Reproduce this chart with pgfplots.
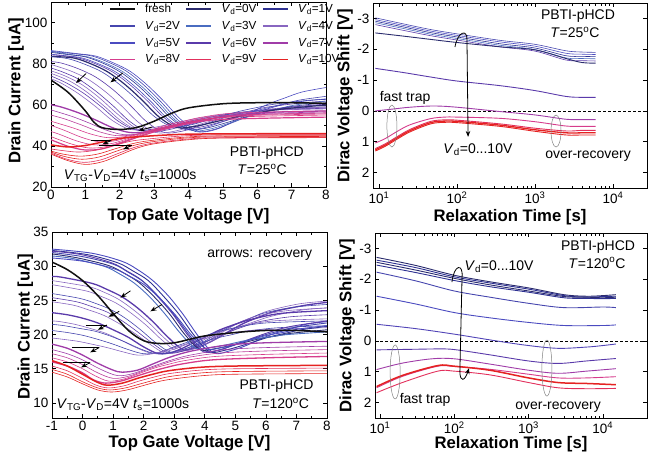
\documentclass[border=0pt]{standalone}
\usepackage{fontspec}
\setmainfont{Liberation Sans}
\usepackage{pgfplots}
\pgfplotsset{compat=1.18}
\usetikzlibrary{arrows.meta}

\definecolor{cf}{HTML}{101010}
\definecolor{c0}{HTML}{2B2C6E}
\definecolor{c1}{HTML}{2E3192}
\definecolor{c2}{HTML}{4646AE}
\definecolor{c3}{HTML}{4A6CC0}
\definecolor{c4}{HTML}{8866C0}
\definecolor{c5}{HTML}{4B4BC0}
\definecolor{c6}{HTML}{5A3AAA}
\definecolor{c7}{HTML}{A03CA8}
\definecolor{c8}{HTML}{D63C8C}
\definecolor{c9}{HTML}{E2305C}
\definecolor{c10}{HTML}{E52222}

\pgfplotsset{
  base/.style={
    scale only axis,
    axis line style={line width=0.8pt},
    tick style={line width=0.7pt, black},
    major tick length=4pt, minor tick length=2.5pt,
    tick label style={font=\fontsize{13.5}{13.5}\selectfont},
    label style={font=\fontsize{16.7}{16.7}\selectfont\bfseries},
    /pgf/number format/assume math mode=true,
    every axis plot/.append style={smooth, tension=0.55, line width=0.6pt},
  },
  relaxax/.style={
    ymin=-3.5, ymax=2.5,
    ytick={-3,-2,-1,0,1,2}, yticklabels={-3,-2,-1,0,1,2},
    xtick={10,100,1000,10000},
    xticklabels={10\textsuperscript{1},10\textsuperscript{2},10\textsuperscript{3},10\textsuperscript{4}},
    xlabel={Relaxation Time [s]}, ylabel={Dirac Voltage Shift [V]},
  },
}
\tikzset{arr/.style={black, line width=0.8pt, -{Stealth[length=6pt,width=4.5pt]}},
  ann/.style={font=\fontsize{14}{14}\selectfont, inner sep=0pt}}

\begin{document}
\begin{tikzpicture}
\useasboundingbox (0,0) rectangle (648pt,459pt);

% ---------------- (a)
\begin{axis}[base, at={(51pt,272pt)}, anchor=south west, width=275pt, height=185pt,
  xmin=0, xmax=8, ymin=20, ymax=110, xtick={0,...,8}, ytick={20,40,...,100},
  minor x tick num=1, minor y tick num=1,
  xlabel={Top Gate Voltage [V]}, ylabel={Drain Current [uA]},
  xlabel style={at={(axis description cs:0.5,0)}, anchor=base, yshift=-33pt},
  ylabel style={at={(axis description cs:-0.127,0.52)}, anchor=center},
  legend columns=3, legend cell align=left,
  legend style={draw=none, fill=none, at={(axis description cs:0.21,0.997)}, anchor=north west,
    font=\fontsize{11.7}{12}\selectfont, inner sep=0pt, row sep=4pt,
    /tikz/every odd column/.append style={column sep=8pt},
    /tikz/every even column/.append style={column sep=4pt}, nodes={inner sep=1.5pt}},
  legend image code/.code={\draw[#1] (0pt,0pt) -- (25pt,0pt);},
]
\addlegendimage{cf, line width=1.6pt}\addlegendentry{fresh}
\addlegendimage{c0, line width=1.6pt}\addlegendentry{\textit{V}\textsubscript{d}=0V}
\addlegendimage{c1, line width=1.6pt}\addlegendentry{\textit{V}\textsubscript{d}=1V}
\addlegendimage{c2, line width=1.6pt}\addlegendentry{\textit{V}\textsubscript{d}=2V}
\addlegendimage{c3, line width=1.6pt}\addlegendentry{\textit{V}\textsubscript{d}=3V}
\addlegendimage{c4, line width=1.6pt}\addlegendentry{\textit{V}\textsubscript{d}=4V}
\addlegendimage{c5, line width=1.6pt}\addlegendentry{\textit{V}\textsubscript{d}=5V}
\addlegendimage{c6, line width=1.6pt}\addlegendentry{\textit{V}\textsubscript{d}=6V}
\addlegendimage{c7, line width=1.6pt}\addlegendentry{\textit{V}\textsubscript{d}=7V}
\addlegendimage{c8, line width=1.6pt}\addlegendentry{\textit{V}\textsubscript{d}=8V}
\addlegendimage{c9, line width=1.6pt}\addlegendentry{\textit{V}\textsubscript{d}=9V}
\addlegendimage{c10, line width=1.6pt}\addlegendentry{\textit{V}\textsubscript{d}=10V}
% purple recovery curves
\addplot[forget plot, c6] coordinates {(0,81) (0.3,80.3) (0.8,77.5) (1.3,73.5) (1.8,67.4) (2.3,59.8) (2.8,51.5) (3.3,46.5) (3.8,47.1) (4.3,49.6) (4.8,52.4) (5.3,55) (5.8,57) (6.3,58.9) (7.3,60.9) (8,61.8)};
\addplot[forget plot, c4] coordinates {(0,79.6) (0.55,76.6) (1.05,72.7) (1.55,66.8) (2.05,59.5) (2.55,51.4) (3.05,46.5) (3.55,47) (4.05,49.2) (4.55,51.6) (5.05,54) (5.55,55.7) (6.05,57.3) (7.05,59) (8,59.9)};
\addplot[forget plot, c6] coordinates {(0,77.9) (0.3,76.2) (0.8,72.5) (1.3,66.7) (1.8,59.6) (2.3,51.8) (2.8,47) (3.3,47.5) (3.8,49.4) (4.3,51.6) (4.8,53.6) (5.3,55.2) (5.8,56.6) (6.8,58.2) (8,59)};
\addplot[forget plot, c4] coordinates {(0,76.5) (0.4,74.1) (0.9,69.8) (1.4,63.5) (1.9,56) (2.4,49.3) (2.7,47.3) (3.2,47.7) (3.7,49.6) (4.2,51.7) (4.7,53.6) (5.2,55.1) (5.7,56.4) (6.7,58) (8,58.8)};
\addplot[forget plot, c4] coordinates {(0,75.3) (0.55,71.5) (1.05,66.1) (1.55,59.3) (2.05,52) (2.55,47.5) (3.05,47.9) (3.55,49.7) (4.05,51.7) (4.55,53.6) (5.05,55) (5.55,56.3) (6.55,57.7) (8,58.5)};
\addplot[forget plot, c6] coordinates {(0,74) (0.45,70.6) (0.95,65.6) (1.45,59.2) (1.95,52.1) (2.45,47.8) (2.95,48.1) (3.45,49.8) (3.95,51.7) (4.45,53.5) (4.95,54.9) (5.45,56.2) (6.45,57.5) (8,58.3)};
\addplot[forget plot, c4] coordinates {(0,72.6) (0.3,70.5) (0.8,65.4) (1.3,59.1) (1.8,52.2) (2.3,48) (2.8,48.4) (3.3,50) (3.8,51.8) (4.3,53.5) (4.8,54.8) (5.3,56) (6.3,57.3) (8,58)};
% blue band
\addplot[forget plot, c5] coordinates {(0,86.4) (0.8,84.8) (1.3,83.7) (1.8,80.5) (2.3,76.3) (2.8,69.6) (3.3,61.4) (3.8,52.5) (4.3,47) (4.8,48) (5.3,51.8) (5.8,56.1) (6.3,60.2) (6.8,63.3) (7.3,66.2) (8,68.4)};
\addplot[forget plot, c2] coordinates {(0,86) (0.7,84.8) (1.2,83.7) (1.7,80.5) (2.2,76.3) (2.7,69.6) (3.2,61.4) (3.7,52.5) (4.2,47) (4.7,47.8) (5.2,50.8) (5.7,54.2) (6.2,57.5) (6.7,59.9) (7.2,62.2) (8,64.1)};
\addplot[forget plot, c3] coordinates {(0,85.9) (0.6,84.4) (1.1,83.2) (1.6,80.2) (2.1,76) (2.6,69.5) (3.1,61.6) (3.6,52.8) (4.1,47.5) (4.6,48.1) (5.1,50.6) (5.6,53.4) (6.1,56) (6.6,58) (7.1,59.9) (8,61.8)};
\addplot[forget plot, c1] coordinates {(0,85.5) (0.5,84.4) (1,83.3) (1.5,80.3) (2,76.1) (2.5,69.8) (3,61.9) (3.5,53.3) (4,48) (4.5,48.6) (5,50.8) (5.5,53.3) (6,55.7) (6.5,57.5) (7,59.2) (8,61)};
\addplot[forget plot, c5] coordinates {(0,84.6) (0.4,83.9) (0.9,82.8) (1.4,79.8) (1.9,75.8) (2.4,69.5) (2.9,61.7) (3.4,53.2) (3.9,48) (4.4,48.6) (4.9,51.2) (5.4,54.1) (5.9,56.8) (6.4,58.9) (6.9,60.8) (8,62.9)};
\addplot[forget plot, c6] coordinates {(0,84.3) (0.3,83.9) (0.8,82.8) (1.3,79.9) (1.8,75.9) (2.3,69.7) (2.8,62) (3.3,53.6) (3.8,48.5) (4.3,49) (4.8,51) (5.3,53.3) (5.8,55.4) (6.3,57) (6.8,58.5) (8,60.4)};
\addplot[forget plot, c0, line width=1.2pt] coordinates {(0,83.5) (0.65,82.8) (1.15,80) (1.65,76) (2.15,69.9) (2.65,62.3) (3.15,54) (3.65,49) (4.15,49.4) (4.65,51.2) (5.15,53.2) (5.65,55.1) (6.15,56.5) (6.65,57.8) (7.65,59.4) (8,59.7)};
\addplot[forget plot, c2] coordinates {(0,83.4) (0.5,82.4) (1,79.6) (1.5,75.8) (2,69.8) (2.5,62.5) (3,54.4) (3.5,49.5) (4,50) (4.5,52.2) (5,54.6) (5.5,56.9) (6,58.7) (6.5,60.3) (7.5,62.2) (8,62.6)};
% magenta
\addplot[forget plot, c7, line width=1.3pt] coordinates {(0,60) (0.3,58.9) (0.8,56.1) (1.3,52.6) (1.8,48.8) (2.3,46.5) (2.8,46.9) (3.3,48.6) (3.8,50.5) (4.3,52.3) (4.8,53.6) (5.3,54.9) (6.3,56.3) (8,57)};
\addplot[forget plot, c7] coordinates {(0,57.5) (0.6,54.4) (1.1,51.2) (1.6,47.7) (2.1,45.5) (2.6,45.9) (3.1,47.7) (3.6,49.7) (4.1,51.6) (4.6,53) (5.1,54.3) (6.1,55.7) (8,56.5)};
\addplot[forget plot, c7!50!c8] coordinates {(0,55) (0.4,53.1) (0.9,50.1) (1.4,46.9) (1.9,45) (2.4,45.4) (2.9,47.2) (3.4,49.2) (3.9,51.1) (4.4,52.5) (4.9,53.8) (5.9,55.2) (8,56)};
\addplot[forget plot, c8] coordinates {(0,52) (0.65,48.7) (1.15,45.8) (1.65,44) (2.15,44.5) (2.65,46.3) (3.15,48.4) (3.65,50.3) (4.15,51.8) (4.65,53.2) (5.65,54.7) (8,55.5)};
% pink
\addplot[forget plot, c8] coordinates {(0,50) (0.4,47.5) (0.9,44.1) (1.4,42) (1.9,42.6) (2.4,45) (2.9,47.7) (3.4,50.3) (3.9,52.2) (4.4,54) (5.4,56) (8,57)};
\addplot[forget plot, c8] coordinates {(0,47) (0.25,45.6) (0.75,42.4) (1.25,40.5) (1.75,41.1) (2.25,43.6) (2.75,46.4) (3.25,49) (3.75,51) (4.25,52.9) (5.25,54.9) (8,56)};
\addplot[forget plot, c8!60!c9] coordinates {(0,44.5) (0.6,40.9) (1.1,39) (1.6,39.6) (2.1,42.2) (2.6,45.1) (3.1,47.8) (3.6,49.9) (4.1,51.8) (5.1,53.9) (8,55)};
\addplot[forget plot, c8, line width=1.2pt] coordinates {(0,43) (0.5,39.8) (1,38) (1.5,38.6) (2,41.2) (2.5,44.1) (3,46.8) (3.5,48.9) (4,50.8) (5,52.9) (8,54)};
% red
\addplot[forget plot, c9] coordinates {(0,38.5) (0.3,37.8) (0.8,37) (1.3,37.9) (1.8,40) (2.3,42.2) (2.8,43.3) (3.8,44.8) (4.8,45.3) (8,45.5)};
\addplot[forget plot, c10] coordinates {(0,37.5) (0.35,36) (0.85,35) (1.35,36) (1.85,38.5) (2.35,41) (2.85,42.5) (3.85,44.2) (4.85,44.8) (8,45)};
\addplot[forget plot, c10] coordinates {(0,37) (0.4,34.8) (0.9,33.5) (1.4,34.6) (1.9,37.4) (2.4,40.2) (2.9,41.9) (3.9,43.8) (4.9,44.4) (8,44.6)};
\addplot[forget plot, c9] coordinates {(0,36.5) (0.45,33.6) (0.95,32) (1.45,33.2) (1.95,36.3) (2.45,39.4) (2.95,41.3) (3.95,43.3) (4.95,44) (8,44.2)};
\addplot[forget plot, c10] coordinates {(0,36) (0.5,32.8) (1,31) (1.5,32.3) (2,35.6) (2.5,38.9) (3,41) (4,43) (5,43.8) (8,44)};
\addplot[forget plot, c10, line width=1.5pt] coordinates {(0,40.5) (0.5,39.5) (1,40.2) (1.5,41.9) (2,43.6) (2.5,44.4) (3.5,45.4) (4.5,45.8) (8,46)};
% fresh
\addplot[forget plot, cf, line width=1.5pt] coordinates {(0,72) (0.5,66) (1,57) (1.25,51.5) (1.5,48.8) (2,48) (2.5,49) (3,52) (3.5,55.8) (4,58.5) (5,60.5) (6,61) (7,61) (8,60.7)};
% arrows
\draw[arr] (axis cs:1.02,75.2) -- (axis cs:0.73,70.6);
\draw[arr] (axis cs:2.09,75.5) -- (axis cs:1.73,70.9);
\draw[arr] (axis cs:2.95,49.2) -- (axis cs:2.55,47.5);
\draw[black, line width=0.8pt] (axis cs:1.15,42.6) -- (axis cs:1.75,42.6);
\draw[arr] (axis cs:1.75,42.6) -- (axis cs:1.5,40.8);
\draw[black, line width=0.8pt] (axis cs:1.4,40.3) -- (axis cs:2.35,40.3);
\draw[arr] (axis cs:2.35,40.3) -- (axis cs:2.1,38.3);
\node[ann] at (axis cs:6.28,36.5) {PBTI-pHCD};
\node[ann] at (axis cs:6.14,28.6) {\textit{T}=25\textsuperscript{o}C};
\node[ann] at (axis cs:2.3,25.4) {\textit{V}\textsubscript{TG}-\textit{V}\textsubscript{D}=4V \textit{t}\textsubscript{s}=1000s};
\node[font=\fontsize{17}{17}\selectfont] at (axis description cs:-0.095,-0.114) {(a)};
\end{axis}

% ---------------- (c)
\begin{axis}[base, xmode=log, y dir=reverse, relaxax, at={(373pt,271pt)}, anchor=south west, width=274pt, height=185pt,
  xmin=8.4, xmax=27300,
  xlabel style={at={(axis description cs:0.5,0)}, anchor=base, yshift=-33pt},
  ylabel style={at={(axis description cs:-0.102,0.5)}, anchor=center},
]
\draw[black, densely dashed, line width=0.6pt] (axis cs:8.4,0) -- (axis cs:27300,0);
\addplot[c2] coordinates {(9,-3.02) (20,-2.83) (46,-2.64) (100,-2.5) (355,-2.29) (1000,-2.16) (2500,-1.95) (4000,-1.91) (6000,-1.9)};
\addplot[c5] coordinates {(9,-2.96) (20,-2.78) (46,-2.59) (100,-2.45) (355,-2.24) (1000,-2.1) (2500,-1.87) (4000,-1.84) (6000,-1.83)};
\addplot[c1] coordinates {(9,-2.91) (20,-2.73) (46,-2.54) (100,-2.4) (355,-2.18) (1000,-2.04) (2500,-1.79) (4000,-1.77) (6000,-1.76)};
\addplot[c3] coordinates {(9,-2.86) (20,-2.68) (46,-2.49) (100,-2.35) (355,-2.13) (1000,-1.99) (2500,-1.72) (4000,-1.7) (6000,-1.69)};
\addplot[c6] coordinates {(9,-2.8) (20,-2.62) (46,-2.44) (100,-2.3) (355,-2.08) (1000,-1.94) (2500,-1.65) (4000,-1.63) (6000,-1.62)};
\addplot[c0, line width=0.9pt] coordinates {(9,-2.53) (20,-2.43) (46,-2.32) (100,-2.22) (355,-2.08) (1000,-1.98) (2500,-1.7) (4000,-1.57) (6000,-1.55)};
\addplot[c6, line width=0.9pt] coordinates {(9,-1.38) (20,-1.25) (46,-1.1) (100,-0.97) (355,-0.82) (1000,-0.66) (2500,-0.47) (4000,-0.44) (6000,-0.44)};
\addplot[c7, line width=0.9pt] coordinates {(9,0) (15,-0.06) (25,-0.12) (50,-0.16) (100,-0.12) (355,0.02) (1000,0.13) (2500,0.27) (4000,0.28) (6000,0.28)};
\addplot[c8, line width=0.9pt] coordinates {(9,1.04) (12,0.9) (17,0.67) (25,0.45) (46,0.25) (70,0.2) (100,0.2) (355,0.24) (1000,0.35) (2500,0.49) (4000,0.5) (6000,0.5)};
\addplot[c9, line width=0.9pt] coordinates {(9,1.22) (12,1.07) (17,0.84) (25,0.6) (46,0.34) (70,0.29) (100,0.3) (355,0.42) (1000,0.56) (2500,0.65) (4000,0.63) (6000,0.63)};
\addplot[c10, line width=1.3pt] coordinates {(9,1.26) (12,1.11) (17,0.88) (25,0.64) (46,0.38) (70,0.33) (100,0.34) (355,0.46) (1000,0.61) (2500,0.71) (4000,0.71) (6000,0.71)};
\addplot[c10, line width=0.9pt] coordinates {(9,1.3) (12,1.15) (17,0.92) (25,0.68) (46,0.42) (70,0.37) (100,0.38) (355,0.5) (1000,0.66) (2500,0.78) (4000,0.78) (6000,0.78)};
\node[ann] at (axis description cs:0.748,0.93) {PBTI-pHCD};
\node[ann] at (axis description cs:0.737,0.84) {\textit{T}=25\textsuperscript{o}C};
\draw[arr] (axis description cs:0.299,0.762) .. controls (axis description cs:0.31,0.85) and (axis description cs:0.345,0.86) .. (axis description cs:0.343,0.80) -- (axis description cs:0.347,0.276);
\node[ann] at (axis description cs:0.383,0.205) {\textit{V}\textsubscript{d}=0...10V};
\node[ann] at (axis description cs:0.117,0.486) {fast trap};
\draw[gray, line width=0.5pt] (axis description cs:0.069,0.335) ellipse [x radius=5pt, y radius=21pt];
\node[ann] at (axis description cs:0.785,0.173) {over-recovery};
\draw[gray, line width=0.5pt] (axis description cs:0.668,0.308) ellipse [x radius=5pt, y radius=16pt];
\end{axis}

% ---------------- (b)
\begin{axis}[base, at={(52pt,41pt)}, anchor=south west, width=275pt, height=186pt,
  xmin=-1, xmax=8, ymin=7.8, ymax=35, xtick={-1,0,...,8}, ytick={10,15,...,35},
  minor x tick num=1,
  xlabel={Top Gate Voltage [V]}, ylabel={Drain Current [uA]},
  xlabel style={at={(axis description cs:0.5,0)}, anchor=base, yshift=-29pt},
  ylabel style={at={(axis description cs:-0.097,0.49)}, anchor=center},
]
% thin purple
\addplot[c6, line width=1.3pt] coordinates {(-1,28.5) (-0.7,28.4) (0.3,27.5) (0.8,26.6) (1.3,25.5) (1.8,23.9) (2.3,21.9) (2.8,19.6) (3.3,17.8) (3.8,18.2) (4.3,19.2) (4.8,20.5) (5.3,21.7) (5.8,22.6) (6.3,23.4) (7.3,24.3) (8,24.7)};
\addplot[c4] coordinates {(-1,27.9) (0.2,27) (0.7,26.2) (1.2,25.1) (1.7,23.5) (2.2,21.6) (2.7,19.4) (3.2,17.7) (3.7,18) (4.2,19) (4.7,20.1) (5.2,21.2) (5.7,22) (6.2,22.7) (7.2,23.6) (8,23.9)};
\addplot[c4] coordinates {(-1,27.3) (0.1,26.4) (0.6,25.6) (1.1,24.6) (1.6,23.1) (2.1,21.3) (2.6,19.2) (3.1,17.6) (3.6,18) (4.1,19.1) (4.6,20.4) (5.1,21.7) (5.6,22.6) (6.1,23.5) (7.1,24.5) (8,24.9)};
\addplot[c2] coordinates {(-1,26) (-0.1,25.3) (0.4,24.6) (0.9,23.7) (1.4,22.4) (1.9,20.7) (2.4,18.8) (2.9,17.4) (3.4,17.8) (3.9,18.8) (4.4,20.1) (4.9,21.3) (5.4,22.2) (5.9,23.1) (6.9,24) (8,24.4)};
\addplot[c6] coordinates {(-1,25.4) (-0.2,24.8) (0.3,24.1) (0.8,23.3) (1.3,22) (1.8,20.4) (2.3,18.7) (2.8,17.3) (3.3,17.6) (3.8,18.4) (4.3,19.5) (4.8,20.4) (5.3,21.2) (5.8,21.9) (6.8,22.6) (8,22.9)};
\addplot[c4] coordinates {(-1,24.8) (-0.3,24.3) (0.2,23.6) (0.7,22.8) (1.2,21.6) (1.7,20.2) (2.2,18.6) (2.7,17.3) (3.2,17.6) (3.7,18.6) (4.2,19.8) (4.7,21) (5.2,21.9) (5.7,22.7) (6.7,23.5) (8,23.9)};
\addplot[c6, line width=1.3pt] coordinates {(-1,23.2) (-0.5,22.9) (0,22.4) (0.5,21.7) (1,20.7) (1.5,19.6) (2,18.2) (2.5,17.2) (3,17.5) (3.5,18.5) (4,19.6) (4.5,20.7) (5,21.5) (5.5,22.2) (6.5,23.1) (8,23.5)};
\addplot[c4] coordinates {(-1,22) (-0.75,21.9) (-0.25,21.5) (0.25,20.9) (0.75,20.2) (1.25,19.2) (1.75,18.1) (2.25,17.3) (2.75,17.55) (3.25,18.3) (3.75,19.2) (4.25,20.05) (4.75,20.7) (5.25,21.3) (6.25,22) (8,22.3)};
\addplot[c2] coordinates {(-1,21.5) (-0.6,21.3) (-0.1,20.9) (0.4,20.5) (0.9,19.8) (1.4,18.9) (1.9,17.9) (2.4,17.2) (2.9,17.4) (3.4,18) (3.9,18.8) (4.4,19.5) (4.9,20) (5.4,20.5) (6.4,21) (8,21.3)};
\addplot[c2] coordinates {(-1,20.6) (-0.5,20.3) (0,19.9) (0.5,19.3) (1,18.6) (1.5,17.8) (2,17.2) (2.5,17.4) (3,18.2) (3.5,19) (4,19.8) (4.5,20.5) (5,21) (6,21.7) (8,22)};
\addplot[c4] coordinates {(-1,19.5) (-0.2,19.05) (0.3,18.6) (0.8,18.1) (1.3,17.5) (1.8,17) (2.3,17.2) (2.8,17.8) (3.3,18.5) (3.8,19.2) (4.3,19.7) (4.8,20.2) (5.8,20.7) (8,21)};
% blue band
\addplot[c5, line width=0.9pt] coordinates {(-1,32.5) (0.3,31.9) (1.3,30.7) (1.8,29.5) (2.3,27.9) (2.8,25.7) (3.3,22.9) (3.8,19.7) (4.3,17.3) (4.8,17.6) (5.3,18.3) (5.8,19.3) (6.3,20.2) (6.8,20.8) (7.3,21.5) (8,21.9)};
\addplot[c1, line width=0.9pt] coordinates {(-1,32.3) (0.15,31.7) (1.15,30.5) (1.65,29.3) (2.15,27.9) (2.65,25.6) (3.15,23) (3.65,19.9) (4.15,17.5) (4.65,17.7) (5.15,18.3) (5.65,19) (6.15,19.7) (6.65,20.2) (7.15,20.7) (8,21.2)};
\addplot[c6, line width=0.9pt] coordinates {(-1,32.2) (-0.05,31.7) (0.95,30.5) (1.45,29.3) (1.95,27.9) (2.45,25.6) (2.95,23) (3.45,19.9) (3.95,17.5) (4.45,17.7) (4.95,18.5) (5.45,19.3) (5.95,20.1) (6.45,20.8) (6.95,21.3) (8,22)};
\addplot[c2, line width=0.9pt] coordinates {(-1,32) (0,31.4) (1,30.3) (1.5,29.1) (2,27.7) (2.5,25.5) (3,22.9) (3.5,19.9) (4,17.6) (4.5,17.8) (5,18.5) (5.5,19.3) (6,20) (6.5,20.6) (7,21.1) (8,21.7)};
\addplot[c0, line width=0.9pt] coordinates {(-1,31.8) (-0.15,31.2) (0.85,30.1) (1.35,29) (1.85,27.6) (2.35,25.5) (2.85,23) (3.35,20) (3.85,17.8) (4.35,17.95) (4.85,18.4) (5.35,18.9) (5.85,19.45) (6.35,19.8) (6.85,20.2) (8,20.7)};
\addplot[c3, line width=0.9pt] coordinates {(-1,31.5) (-0.3,31.1) (0.7,30) (1.2,28.9) (1.7,27.5) (2.2,25.5) (2.7,23) (3.2,20.2) (3.7,18) (4.2,18.1) (4.7,18.5) (5.2,19) (5.7,19.4) (6.2,19.7) (6.7,20) (8,20.4)};
\addplot[c5, line width=0.9pt] coordinates {(-1,31.2) (0.05,30.7) (1.05,29.6) (1.55,28.5) (2.05,27.2) (2.55,25.2) (3.05,22.8) (3.55,20) (4.05,17.9) (4.55,18.1) (5.05,18.6) (5.55,19.3) (6.05,19.9) (6.55,20.3) (7.05,20.8) (8,21.3)};
% magenta, pink, red
\addplot[c7, line width=1.3pt] coordinates {(-1,18.6) (-0.5,18) (0,17) (0.5,15.8) (1,14.8) (1.3,14.5) (1.8,14.8) (2.3,15.7) (2.8,16.6) (3.3,17.3) (3.8,17.8) (4.8,18.5) (6,18.8) (8,19)};
\addplot[c7] coordinates {(-1,17.8) (-0.5,17.2) (0,16.3) (0.6,14.9) (1.15,14) (1.65,14.3) (2.15,15.1) (2.65,15.9) (3.15,16.6) (3.65,17.1) (4.65,17.8) (6,18.1) (8,18.3)};
\addplot[c7!50!c8] coordinates {(-1,17.2) (-0.5,16.6) (0,15.6) (0.5,14.4) (1,13.6) (1.5,13.9) (2,14.7) (2.5,15.5) (3,16.2) (3.5,16.7) (4.5,17.3) (6,17.6) (8,17.8)};
\addplot[c8] coordinates {(-1,16.6) (-0.5,16) (0,15) (0.4,14) (0.85,13.2) (1.35,13.5) (1.85,14.3) (2.35,15.1) (2.85,15.7) (3.35,16.2) (4.35,16.8) (6,17.1) (8,17.3)};
\addplot[c8, line width=1.3pt] coordinates {(-1,16) (-0.5,15.4) (0,14.4) (0.35,13.4) (0.75,12.9) (1.25,13.2) (1.75,13.9) (2.25,14.6) (2.75,15.2) (3.25,15.7) (4.25,16.3) (6,16.6) (8,16.8)};
\addplot[c9] coordinates {(-1,15.4) (-0.5,14.7) (0,13.6) (0.45,12.6) (0.85,12.2) (1.35,12.5) (1.85,13.2) (2.35,13.8) (2.85,14.3) (3.85,14.8) (5,15) (8,15.1)};
\addplot[c10] coordinates {(-1,14.9) (-0.5,14.2) (0,13.1) (0.5,12.2) (0.9,11.9) (1.4,12.2) (1.9,12.8) (2.4,13.4) (2.9,13.9) (3.9,14.4) (5,14.6) (8,14.7)};
\addplot[c10] coordinates {(-1,14.5) (-0.5,13.8) (0,12.8) (0.5,11.9) (0.95,11.6) (1.45,11.9) (1.95,12.5) (2.45,13.1) (2.95,13.5) (3.95,14) (5,14.2) (8,14.3)};
\addplot[c10, line width=1.5pt] coordinates {(-1,16.2) (-0.5,15.4) (0,14.2) (0.45,13.1) (0.8,12.6) (1.3,12.9) (1.8,13.6) (2.3,14.2) (2.8,14.7) (3.8,15.2) (5,15.4) (8,15.5)};
% fresh
\addplot[cf, line width=1.5pt] coordinates {(-1,30.6) (-0.5,29.5) (0,27.9) (0.5,25.7) (1,23.1) (1.5,20.6) (2,19.1) (2.5,18.7) (3,18.8) (3.5,19.3) (4,19.8) (5,20.3) (6,20.6) (7,20.6) (8,20.4)};
% arrows
\draw[arr] (axis cs:1.57,26.4) -- (axis cs:1.24,25.4);
\draw[arr] (axis cs:2.6,24.4) -- (axis cs:2.22,23.4);
\draw[arr] (axis cs:1.2,23.4) -- (axis cs:0.85,22.6);
\draw[black, line width=0.8pt] (axis cs:0.1,21.4) -- (axis cs:0.8,21.4);
\draw[arr] (axis cs:0.8,21.4) -- (axis cs:0.5,20.7);
\draw[black, line width=0.8pt] (axis cs:-0.35,18.1) -- (axis cs:0.55,18.1);
\draw[arr] (axis cs:0.55,18.1) -- (axis cs:0.25,17.4);
\draw[black, line width=0.8pt] (axis cs:-0.65,15.9) -- (axis cs:0.25,15.9);
\draw[arr] (axis cs:0.25,15.9) -- (axis cs:-0.05,15.2);
\node[ann] at (axis cs:5.8,31.6) {arrows: recovery};
\node[ann] at (axis cs:6.35,12.4) {PBTI-pHCD};
\node[ann] at (axis cs:6.48,9.9) {\textit{T}=120\textsuperscript{o}C};
\node[ann] at (axis cs:1.32,9.75) {\textit{V}\textsubscript{TG}-\textit{V}\textsubscript{D}=4V \textit{t}\textsubscript{s}=1000s};
\node[font=\fontsize{17}{17}\selectfont] at (axis description cs:-0.087,-0.118) {(b)};
\end{axis}

% ---------------- (d)
\begin{axis}[base, xmode=log, y dir=reverse, relaxax, at={(375pt,41pt)}, anchor=south west, width=272pt, height=185pt,
  xmin=8.57, xmax=39300,
  xlabel style={at={(axis description cs:0.5,0)}, anchor=base, yshift=-30pt},
  ylabel style={at={(axis description cs:-0.103,0.5)}, anchor=center},
]
\draw[black, densely dashed, line width=0.6pt] (axis cs:8.57,0) -- (axis cs:39300,0);
\addplot[c0, line width=0.9pt] coordinates {(9,-2.71) (30,-2.45) (100,-2.13) (300,-1.92) (1000,-1.72) (3000,-1.5) (6000,-1.45) (10000,-1.47) (15000,-1.5)};
\addplot[c1, line width=0.9pt] coordinates {(9,-2.62) (30,-2.38) (100,-2.08) (300,-1.88) (1000,-1.68) (3000,-1.47) (6000,-1.42) (10000,-1.44) (15000,-1.45)};
\addplot[c0, line width=0.9pt] coordinates {(9,-2.55) (30,-2.3) (100,-2.03) (300,-1.82) (1000,-1.62) (3000,-1.44) (6000,-1.42) (10000,-1.4) (15000,-1.42)};
\addplot[c1, line width=0.9pt] coordinates {(9,-2.46) (30,-2.22) (100,-1.96) (300,-1.76) (1000,-1.58) (3000,-1.4) (6000,-1.38) (10000,-1.37) (15000,-1.38)};
\addplot[c2, line width=0.9pt] coordinates {(9,-2.23) (30,-1.95) (100,-1.62) (300,-1.42) (1000,-1.22) (3000,-1.08) (10000,-1.1) (15000,-1.08)};
\addplot[c5, line width=0.9pt] coordinates {(9,-1.45) (30,-1.2) (100,-0.92) (300,-0.75) (1000,-0.6) (3000,-0.5) (10000,-0.5) (15000,-0.52)};
\addplot[c5!60!c6, line width=0.9pt] coordinates {(9,-0.54) (30,-0.4) (100,-0.22) (370,0) (1000,0.15) (2500,0.24) (6000,0.2) (10000,0.15) (15000,0.1)};
\addplot[c6, line width=0.9pt] coordinates {(9,0.29) (30,0.27) (60,0.26) (100,0.28) (300,0.45) (1000,0.65) (2500,0.73) (6000,0.65) (15000,0.57)};
\addplot[c7, line width=0.9pt] coordinates {(9,0.93) (20,0.72) (50,0.58) (100,0.58) (300,0.75) (1000,0.95) (2500,1.05) (6000,0.98) (15000,0.9)};
\addplot[c8, line width=0.9pt] coordinates {(9,1.52) (20,1.15) (60,0.82) (100,0.83) (300,0.92) (1000,1.08) (2500,1.2) (6000,1.2) (15000,1.16)};
\addplot[c9, line width=0.9pt] coordinates {(9,1.68) (20,1.35) (60,0.98) (100,0.98) (300,1.1) (1000,1.35) (2500,1.52) (6000,1.55) (15000,1.54)};
\addplot[c10, line width=1.5pt] coordinates {(9,1.48) (20,1.12) (60,0.8) (100,0.82) (300,0.95) (1000,1.2) (2500,1.35) (6000,1.38) (15000,1.42)};
\node[ann] at (axis description cs:0.82,0.924) {PBTI-pHCD};
\node[ann] at (axis description cs:0.816,0.838) {\textit{T}=120\textsuperscript{o}C};
\node[ann] at (axis description cs:0.456,0.816) {\textit{V}\textsubscript{d}=0...10V};
\draw[arr] (axis description cs:0.283,0.735) .. controls (axis description cs:0.29,0.83) and (axis description cs:0.325,0.84) .. (axis description cs:0.32,0.76) -- (axis description cs:0.312,0.25) .. controls (axis description cs:0.313,0.19) and (axis description cs:0.33,0.2) .. (axis description cs:0.346,0.27);
\node[ann] at (axis description cs:0.184,0.097) {fast trap};
\draw[gray, line width=0.5pt] (axis description cs:0.074,0.249) ellipse [x radius=5pt, y radius=27pt];
\node[ann] at (axis description cs:0.673,0.059) {over-recovery};
\draw[gray, line width=0.5pt] (axis description cs:0.632,0.27) ellipse [x radius=5pt, y radius=28pt];
\end{axis}
\end{tikzpicture}
\end{document}
